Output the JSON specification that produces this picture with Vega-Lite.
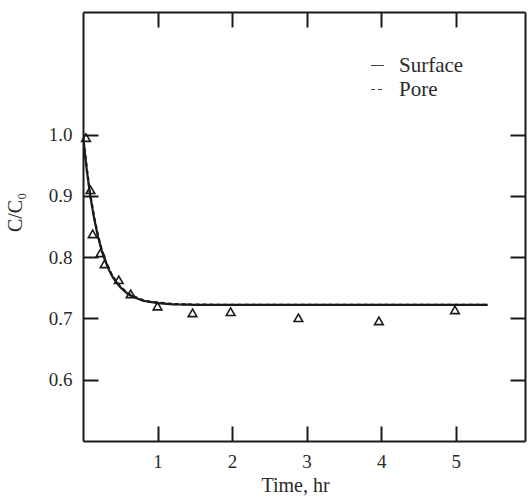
{
  "$schema": "https://vega.github.io/schema/vega-lite/v6.json",
  "width": 442,
  "height": 429,
  "autosize": "none",
  "padding": {"left": 83, "top": 12, "right": 3, "bottom": 57},
  "background": "white",
  "config": {
    "view": {"stroke": null},
    "font": "Liberation Serif",
    "axis": {
      "domainColor": "#1a1a1a",
      "domainWidth": 2,
      "tickColor": "#1a1a1a",
      "tickWidth": 2,
      "tickSize": -15,
      "grid": false,
      "labelFont": "Liberation Serif",
      "labelFontSize": 19,
      "labelColor": "#2a2a2a",
      "titleFont": "Liberation Serif",
      "titleFontSize": 20,
      "titleFontWeight": "normal",
      "titleColor": "#2a2a2a"
    }
  },
  "datasets": {
    "curves": [
      {"series": "Surface", "t": 0, "c": 1.0},
      {"series": "Surface", "t": 0.025, "c": 0.97},
      {"series": "Surface", "t": 0.05, "c": 0.943},
      {"series": "Surface", "t": 0.075, "c": 0.92},
      {"series": "Surface", "t": 0.1, "c": 0.898},
      {"series": "Surface", "t": 0.15, "c": 0.863},
      {"series": "Surface", "t": 0.2, "c": 0.834},
      {"series": "Surface", "t": 0.25, "c": 0.811},
      {"series": "Surface", "t": 0.3, "c": 0.793},
      {"series": "Surface", "t": 0.35, "c": 0.779},
      {"series": "Surface", "t": 0.4, "c": 0.767},
      {"series": "Surface", "t": 0.5, "c": 0.751},
      {"series": "Surface", "t": 0.6, "c": 0.74},
      {"series": "Surface", "t": 0.7, "c": 0.734},
      {"series": "Surface", "t": 0.8, "c": 0.729},
      {"series": "Surface", "t": 0.9, "c": 0.727},
      {"series": "Surface", "t": 1.0, "c": 0.725},
      {"series": "Surface", "t": 1.2, "c": 0.723},
      {"series": "Surface", "t": 1.5, "c": 0.7222},
      {"series": "Surface", "t": 2.0, "c": 0.722},
      {"series": "Surface", "t": 3.0, "c": 0.722},
      {"series": "Surface", "t": 4.0, "c": 0.722},
      {"series": "Surface", "t": 5.0, "c": 0.722},
      {"series": "Surface", "t": 5.43, "c": 0.722},
      {"series": "Pore", "t": 0, "c": 1.0},
      {"series": "Pore", "t": 0.025, "c": 0.972},
      {"series": "Pore", "t": 0.05, "c": 0.946},
      {"series": "Pore", "t": 0.075, "c": 0.922},
      {"series": "Pore", "t": 0.1, "c": 0.9},
      {"series": "Pore", "t": 0.15, "c": 0.865},
      {"series": "Pore", "t": 0.2, "c": 0.836},
      {"series": "Pore", "t": 0.25, "c": 0.813},
      {"series": "Pore", "t": 0.3, "c": 0.795},
      {"series": "Pore", "t": 0.35, "c": 0.78},
      {"series": "Pore", "t": 0.4, "c": 0.768},
      {"series": "Pore", "t": 0.5, "c": 0.752},
      {"series": "Pore", "t": 0.6, "c": 0.741},
      {"series": "Pore", "t": 0.7, "c": 0.735},
      {"series": "Pore", "t": 0.8, "c": 0.73},
      {"series": "Pore", "t": 0.9, "c": 0.727},
      {"series": "Pore", "t": 1.0, "c": 0.726},
      {"series": "Pore", "t": 1.2, "c": 0.7235},
      {"series": "Pore", "t": 1.5, "c": 0.7225},
      {"series": "Pore", "t": 2.0, "c": 0.7222},
      {"series": "Pore", "t": 3.0, "c": 0.7222},
      {"series": "Pore", "t": 4.0, "c": 0.7222},
      {"series": "Pore", "t": 5.0, "c": 0.7222},
      {"series": "Pore", "t": 5.43, "c": 0.7222}
    ],
    "points": [
      {"t": 0.04, "c": 0.995},
      {"t": 0.1, "c": 0.91},
      {"t": 0.13, "c": 0.838},
      {"t": 0.235, "c": 0.807},
      {"t": 0.29, "c": 0.789},
      {"t": 0.48, "c": 0.763},
      {"t": 0.64, "c": 0.74},
      {"t": 1.0, "c": 0.72},
      {"t": 1.47, "c": 0.709},
      {"t": 1.98, "c": 0.711},
      {"t": 2.89, "c": 0.701},
      {"t": 3.97, "c": 0.696},
      {"t": 4.99, "c": 0.714}
    ]
  },
  "layer": [
    {
      "data": {"name": "curves"},
      "mark": {"type": "line", "color": "#1a1a1a", "strokeWidth": 2.2, "clip": true},
      "encoding": {
        "x": {
          "field": "t", "type": "quantitative",
          "scale": {"domain": [0, 5.93], "nice": false, "zero": false},
          "axis": {"orient": "bottom", "values": [1, 2, 3, 4, 5], "title": "Time, hr", "labelPadding": 26, "titleX": 212, "titleY": 50, "titleBaseline": "alphabetic", "titleAlign": "center"}
        },
        "y": {
          "field": "c", "type": "quantitative",
          "scale": {"domain": [0.5, 1.2], "nice": false, "zero": false},
          "axis": {"orient": "left", "values": [0.6, 0.7, 0.8, 0.9, 1.0], "format": ".1f", "title": "C/C₀", "labelPadding": 26, "titleX": -68, "titleY": 200, "titleBaseline": "middle", "titleAlign": "center", "titleAngle": -90}
        },
        "strokeDash": {
          "field": "series", "type": "nominal",
          "scale": {"domain": ["Surface", "Pore"], "range": [[1, 0], [4, 3]]},
          "legend": {
            "title": null,
            "orient": "none",
            "legendX": 284,
            "legendY": 43,
            "symbolType": "stroke",
            "symbolSize": 169,
            "symbolStrokeWidth": 1.2,
            "symbolStrokeColor": "#444",
            "labelFont": "Liberation Serif",
            "labelFontSize": 21,
            "labelColor": "#2a2a2a",
            "labelOffset": 11,
            "rowPadding": 2
          }
        }
      }
    },
    {
      "data": {"name": "points"},
      "mark": {"type": "point", "shape": "triangle-up", "filled": false, "color": "#1a1a1a", "opacity": 1, "size": 75, "strokeWidth": 1.6},
      "encoding": {
        "x": {
          "field": "t", "type": "quantitative",
          "axis": {"orient": "top", "values": [1, 2, 3, 4, 5], "labels": false, "title": null}
        },
        "y": {
          "field": "c", "type": "quantitative",
          "axis": {"orient": "right", "values": [0.6, 0.7, 0.8, 0.9, 1.0], "labels": false, "title": null}
        }
      }
    }
  ],
  "resolve": {"axis": {"x": "independent", "y": "independent"}}
}
